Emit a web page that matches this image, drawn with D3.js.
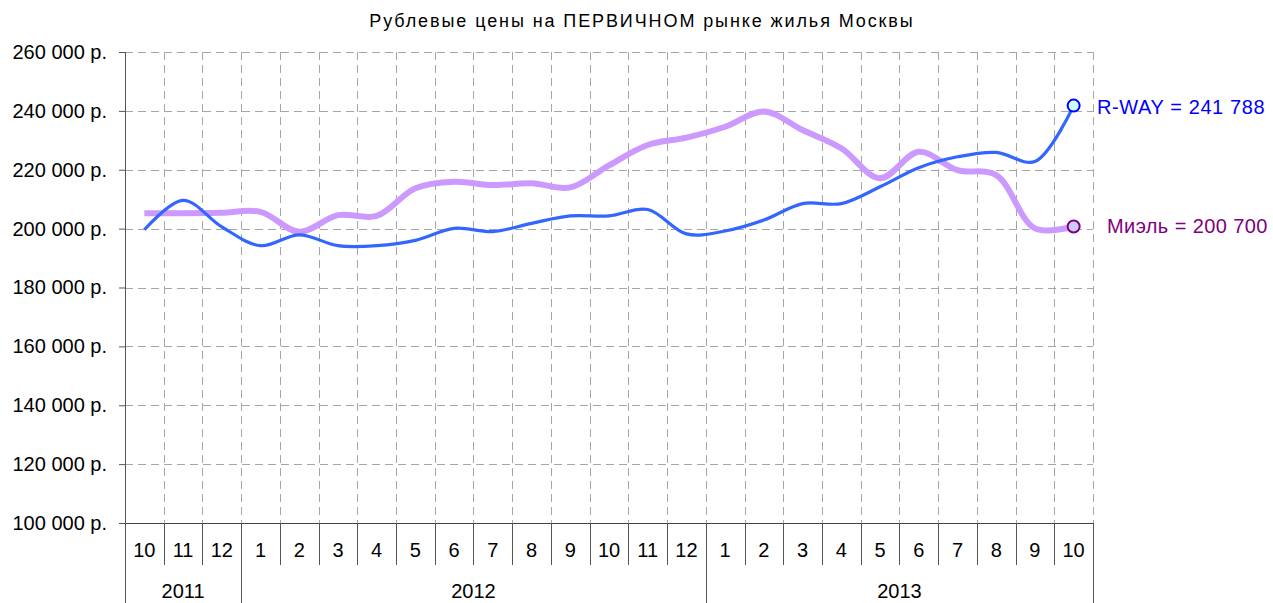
<!DOCTYPE html>
<html>
<head>
<meta charset="utf-8">
<script src="https://cdn.jsdelivr.net/npm/d3@7"></script>
<style>
  body { margin: 0; background: #fff; }
  svg { display: block; font-family: "Liberation Sans", Arial, sans-serif; }
</style>
</head>
<body>
<svg id="chart" width="1273" height="603"></svg>
<script>
const title = "Рублевые цены на ПЕРВИЧНОМ рынке жилья Москвы";

// month labels along the axis, grouped by year
const months = [10, 11, 12, 1, 2, 3, 4, 5, 6, 7, 8, 9, 10, 11, 12, 1, 2, 3, 4, 5, 6, 7, 8, 9, 10];
const years = ["2011", "2012", "2013"];
const yearSpans = [3, 12, 10];

const yTicks = [100000, 120000, 140000, 160000, 180000, 200000, 220000, 240000, 260000];

// R-WAY
const rway = [199600, 209600, 200600, 194200, 197900, 194200, 194200, 196000, 200100, 199000,
  201800, 204300, 204300, 206500, 198200, 199200, 202900, 208500, 208500, 214200,
  220700, 224400, 225900, 222800, 241788];
// Миэль
const miel = [205200, 205200, 205400, 205700, 198900, 204600, 204300, 213700, 215900, 214800,
  215400, 214000, 221500, 228400, 230900, 234600, 239800, 233500, 227300, 217100,
  226100, 219900, 218200, 200100, 200700];

const svg = d3.select("#chart");
const plotLeft = 125, plotRight = 1093, plotTop = 52, plotBottom = 523;

const idx = d3.range(months.length);
const x = d3.scaleBand().domain(idx).range([plotLeft, plotRight]).padding(0);
const y = d3.scaleLinear().domain([100000, 260000]).range([plotBottom, plotTop]);
const cx = i => x(i) + x.bandwidth() / 2;
const edge = i => i < months.length ? x(i) : plotRight;

const fmt = d3.formatLocale({ decimal: ",", thousands: " ", grouping: [3], currency: ["", ""] }).format(",");

// title
svg.append("text")
  .attr("x", 642).attr("y", 27)
  .attr("text-anchor", "middle")
  .style("font-size", "18px")
  .style("letter-spacing", "1.9px")
  .text(title);

// grid
const grid = svg.append("g").attr("stroke", "#a6a6a6").attr("stroke-dasharray", "8,5").attr("stroke-width", 1);
grid.selectAll(".hg").data(yTicks.slice(1))
  .enter().append("line")
  .attr("x1", plotLeft).attr("x2", plotRight)
  .attr("y1", d => Math.round(y(d)) + 0.5).attr("y2", d => Math.round(y(d)) + 0.5);
grid.selectAll(".vg").data(idx.slice(1).concat([months.length]))
  .enter().append("line")
  .attr("x1", d => Math.round(edge(d)) + 0.5)
  .attr("x2", d => Math.round(edge(d)) + 0.5)
  .attr("y1", plotTop).attr("y2", plotBottom);

// y axis
const yAxis = svg.append("g").attr("transform", `translate(${plotLeft},0)`)
  .call(d3.axisLeft(y).tickValues(yTicks).tickSize(6).tickPadding(12).tickFormat(d => fmt(d) + " р."));
yAxis.select(".domain").remove();
yAxis.selectAll(".tick line").attr("stroke", "#555");
yAxis.selectAll(".tick text").style("font-size", "20px").attr("fill", "#000");
svg.append("line")
  .attr("x1", plotLeft + 0.5).attr("x2", plotLeft + 0.5)
  .attr("y1", plotTop).attr("y2", 603)
  .attr("stroke", "#555");

// x axis: months
svg.append("line")
  .attr("x1", plotLeft).attr("x2", plotRight)
  .attr("y1", plotBottom + 0.5).attr("y2", plotBottom + 0.5)
  .attr("stroke", "#444");
svg.selectAll(".msep").data(idx.slice(1))
  .enter().append("line")
  .attr("x1", d => Math.round(x(d)) + 0.5).attr("x2", d => Math.round(x(d)) + 0.5)
  .attr("y1", plotBottom).attr("y2", 565)
  .attr("stroke", "#555");
svg.selectAll(".mlab").data(idx)
  .enter().append("text")
  .attr("x", d => cx(d)).attr("y", 557)
  .attr("text-anchor", "middle")
  .style("font-size", "20px")
  .text(d => months[d]);

// x axis: years
const yearStarts = yearSpans.map((s, i) => d3.sum(yearSpans.slice(0, i)));
svg.selectAll(".ysep").data(yearStarts.concat([months.length]))
  .enter().append("line")
  .attr("x1", d => Math.round(edge(d)) + 0.5).attr("x2", d => Math.round(edge(d)) + 0.5)
  .attr("y1", plotBottom).attr("y2", 603)
  .attr("stroke", "#555");
svg.selectAll(".ylab").data(years)
  .enter().append("text")
  .attr("x", (d, i) => (edge(yearStarts[i]) + edge(yearStarts[i] + yearSpans[i])) / 2)
  .attr("y", 598)
  .attr("text-anchor", "middle")
  .style("font-size", "20px")
  .text(d => d);

// lines
const line = d3.line().x((d, i) => cx(i)).y(d => y(d)).curve(d3.curveCatmullRom.alpha(0.5));

svg.append("path").datum(miel)
  .attr("d", line).attr("fill", "none")
  .attr("stroke", "#cc99ff").attr("stroke-width", 6).attr("stroke-linejoin", "round");
svg.append("path").datum(rway)
  .attr("d", line).attr("fill", "none")
  .attr("stroke", "#3366ff").attr("stroke-width", 3.2).attr("stroke-linejoin", "round");

// end markers and labels
const last = months.length - 1;
svg.append("circle")
  .attr("cx", cx(last)).attr("cy", y(rway[last])).attr("r", 6)
  .attr("fill", "#ccffff").attr("stroke", "#0000ff").attr("stroke-width", 2);
svg.append("circle")
  .attr("cx", cx(last)).attr("cy", y(miel[last])).attr("r", 6)
  .attr("fill", "#ccccff").attr("stroke", "#800080").attr("stroke-width", 2);

svg.append("text")
  .attr("x", 1097).attr("y", y(rway[last]) + 8)
  .attr("fill", "#0000ff").style("font-size", "20px").style("letter-spacing", "0.6px")
  .text("R-WAY = " + fmt(rway[last]));
svg.append("text")
  .attr("x", 1107).attr("y", y(miel[last]) + 6)
  .attr("fill", "#800080").style("font-size", "20px").style("letter-spacing", "0.4px")
  .text("Миэль = " + fmt(miel[last]));
</script>
</body>
</html>
